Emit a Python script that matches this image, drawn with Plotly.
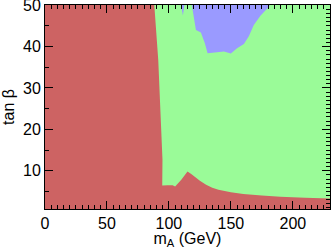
import plotly.graph_objects as go

# axis ranges
x_range = [0, 230]
y_range = [0.75, 50.05]

# full scanned region (red = excluded)
red_x = [0, 0, 230, 230, 0]
red_y = [0.75, 50.05, 50.05, 0.75, 0.75]

# green region (allowed) boundary: left edge top->bottom, lower curve left->right
green_x = [88.2, 91.4, 94.8, 94.6, 99, 103, 105, 110, 115, 118, 125, 130, 135, 140, 150, 160, 175, 190, 210, 230, 230, 88.2]
green_y = [50.05, 36.7, 12.7, 6.4, 6.5, 6.5, 6.2, 7.8, 9.8, 9.2, 7.6, 6.6, 5.9, 5.4, 4.8, 4.4, 4.0, 3.7, 3.45, 3.3, 50.05, 50.05]

# blue region (top), plus tiny sliver
blue_x = [118.5, 121.8, 125.8, 129.0, 131.2, 137, 144.4, 150.0, 155, 160.5, 164.5, 168.5, 174, 179.8, 181.5, 118.5, None,
          109.7, 111.3, 112.5, 109.7]
blue_y = [50.05, 44.0, 43.4, 40.8, 38.4, 38.6, 38.8, 38.3, 39.6, 40.6, 42.5, 45.2, 47.5, 49.3, 50.05, 50.05, None,
          50.05, 47.5, 50.05, 50.05]

x_ticks = [0, 50, 100, 150, 200]
y_ticks = [10, 20, 30, 40, 50]

RED = "#CD6363"
GREEN = "#9AFB98"
BLUE = "#9A9AFF"

fig = go.Figure()
fig.add_trace(go.Scatter(x=red_x, y=red_y, fill="toself", fillcolor=RED, mode="none",
                         hoverinfo="skip", showlegend=False))
fig.add_trace(go.Scatter(x=green_x, y=green_y, fill="toself", fillcolor=GREEN, mode="none",
                         hoverinfo="skip", showlegend=False))
fig.add_trace(go.Scatter(x=blue_x, y=blue_y, fill="toself", fillcolor=BLUE, mode="none",
                         hoverinfo="skip", showlegend=False))
# invisible trace on the top/right overlay axes
fig.add_trace(go.Scatter(x=[x_range[0]], y=[y_range[0]], xaxis="x2", yaxis="y2", mode="none",
                         hoverinfo="skip", showlegend=False))

font = dict(family="Liberation Sans, Arial, sans-serif", size=16, color="black")
minor5 = dict(dtick=5, tick0=0, ticks="inside", ticklen=4, tickcolor="black")

fig.update_layout(
    width=332, height=249,
    margin=dict(l=45, r=2, t=5, b=40),
    paper_bgcolor="white", plot_bgcolor="white",
    font=font,
    xaxis=dict(range=x_range, tickvals=x_ticks, ticks="inside", ticklen=8, automargin=False,
               tickcolor="black", linecolor="black", linewidth=1, showline=True, showgrid=False,
               zeroline=False, minor=minor5, ticklabeloverflow="allow",
               title=dict(text="m<sub>A</sub> (GeV)", font=font)),
    yaxis=dict(range=y_range, tickvals=y_ticks, ticks="inside", ticklen=8, automargin=False,
               tickcolor="black", linecolor="black", linewidth=1, showline=True, showgrid=False,
               zeroline=False, minor=minor5, ticklabeloverflow="allow",
               title=dict(text="tan β", font=font)),
    xaxis2=dict(range=x_range, overlaying="x", side="top", tickvals=x_ticks, ticks="inside",
                ticklen=8, tickcolor="black", showticklabels=False, showline=True, linecolor="black",
                showgrid=False, zeroline=False, automargin=False, minor=minor5),
    yaxis2=dict(range=y_range, overlaying="y", side="right", tickvals=y_ticks, ticks="inside",
                ticklen=8, tickcolor="black", showticklabels=False, showline=True, linecolor="black",
                showgrid=False, zeroline=False, automargin=False,
                minor=dict(dtick=1, tick0=0, ticks="inside", ticklen=4, tickcolor="black")),
)

fig.write_html("out.html", config={"displayModeBar": False},
               post_script="document.body.style.margin='0';")
